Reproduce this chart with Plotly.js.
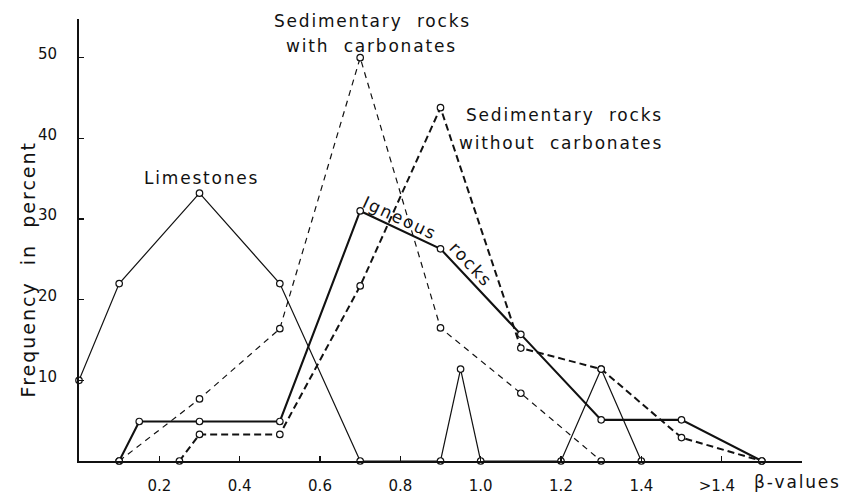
<!DOCTYPE html>
<html>
<head>
<meta charset="utf-8">
<script src="https://cdn.plot.ly/plotly-3.0.1.min.js"></script>
<style>
  html, body { margin: 0; padding: 0; background: #fff; }
  #chart { width: 858px; height: 494px; }
  /* hand-lettered look: spread the letters of the labels */
  .annotation-text { letter-spacing: 1.8px; }
  .annotation[data-index="8"] .annotation-text { letter-spacing: 2px; }
</style>
</head>
<body>
<div id="chart"></div>
<script>
// Frequency distributions (percent) of beta-values for four rock groups
const limestonesX  = [0, 0.1, 0.3, 0.5, 0.7, 0.9, 0.95, 1.0, 1.2, 1.3, 1.4];
const limestonesY  = [10, 22, 33.2, 22, 0, 0, 11.4, 0, 0, 11.4, 0];

const sedCarbX     = [0.1, 0.3, 0.5, 0.7, 0.9, 1.1, 1.3];
const sedCarbY     = [0, 7.7, 16.4, 50, 16.5, 8.4, 0];

const sedNoCarbX   = [0.25, 0.3, 0.5, 0.7, 0.9, 1.1, 1.3, 1.5, 1.7];
const sedNoCarbY   = [0, 3.3, 3.3, 21.7, 43.8, 14, 11.4, 2.9, 0];

const igneousX     = [0.1, 0.15, 0.3, 0.5, 0.7, 0.9, 1.1, 1.3, 1.5, 1.7];
const igneousY     = [0, 4.9, 4.9, 4.9, 31, 26.3, 15.7, 5.1, 5.1, 0];

const xTickVals    = [0.2, 0.4, 0.6, 0.8, 1.0, 1.2, 1.4, 1.6];
const xTickText    = ['0.2', '0.4', '0.6', '0.8', '1.0', '1.2', '1.4', '>1.4\u00a0\u00a0'];
const yTickVals    = [10, 20, 30, 40, 50];

const INK = '#111';
const FONT = 'DejaVu Sans, sans-serif';

function series(x, y, width, dash) {
  return {
    x: x, y: y, type: 'scatter', mode: 'lines+markers',
    cliponaxis: false, hoverinfo: 'skip',
    line: { color: INK, width: width, dash: dash },
    marker: { symbol: 'circle', size: 6.5, color: '#fff',
              line: { color: INK, width: 1.2 } }
  };
}

const traces = [
  series(limestonesX, limestonesY, 1.2, 'solid'),
  series(sedCarbX, sedCarbY, 1.2, '6px,5px'),
  series(sedNoCarbX, sedNoCarbY, 2, '7px,4px'),
  series(igneousX, igneousY, 2.1, 'solid')
];

function label(text, x, y, opts) {
  return Object.assign({
    text: text, x: x, y: y, xref: 'x', yref: 'y',
    showarrow: false, xanchor: 'center', yanchor: 'middle',
    font: { family: FONT, size: 17, color: INK }
  }, opts || {});
}

const sp = '\u00a0\u00a0';
const annotations = [
  label('Sedimentary' + sp + 'rocks', 0.730, 54.6),
  label('with' + sp + 'carbonates', 0.728, 51.5),
  label('Sedimentary' + sp + 'rocks', 1.209, 42.9),
  label('without' + sp + 'carbonates', 1.199, 39.4),
  label('Limestones', 0.306, 35.1),
  label('Igneous', 0.799, 30.1, { textangle: 25 }),
  label('rocks', 0.975, 24.4, { textangle: 47 }),
  {
    text: '\u03b2-values', xref: 'paper', yref: 'paper', x: 0.994, y: 0,
    yshift: -21, xanchor: 'center', yanchor: 'middle', showarrow: false,
    font: { family: FONT, size: 17, color: INK }
  },
  {
    text: 'Frequency' + sp + 'in' + sp + 'percent',
    xref: 'paper', yref: 'paper', x: -0.0705, y: 0.434,
    xanchor: 'center', yanchor: 'middle', textangle: -90, showarrow: false,
    font: { family: FONT, size: 19, color: INK }
  }
];

const layout = {
  width: 858, height: 494,
  margin: { l: 79, r: 56, t: 19, b: 33 },
  paper_bgcolor: '#fff', plot_bgcolor: '#fff',
  showlegend: false,
  font: { family: FONT, color: INK },
  xaxis: {
    range: [0, 1.8], showgrid: false, zeroline: false,
    showline: true, linecolor: INK, linewidth: 2,
    ticks: 'inside', ticklen: 5, tickwidth: 1.5, tickcolor: INK,
    tickvals: xTickVals, ticktext: xTickText,
    ticklabelstandoff: 10,
    tickfont: { family: FONT, size: 15, color: INK }
  },
  yaxis: {
    range: [0, 54.8], showgrid: false, zeroline: false,
    showline: true, linecolor: INK, linewidth: 2,
    ticks: 'inside', ticklen: 5, tickwidth: 1.5, tickcolor: INK,
    tickvals: yTickVals, ticklabelstandoff: 17, ticklabelshift: -4,
    tickfont: { family: FONT, size: 15, color: INK }
  },
  annotations: annotations
};

Plotly.newPlot('chart', traces, layout, { staticPlot: true, displayModeBar: false });
</script>
</body>
</html>
